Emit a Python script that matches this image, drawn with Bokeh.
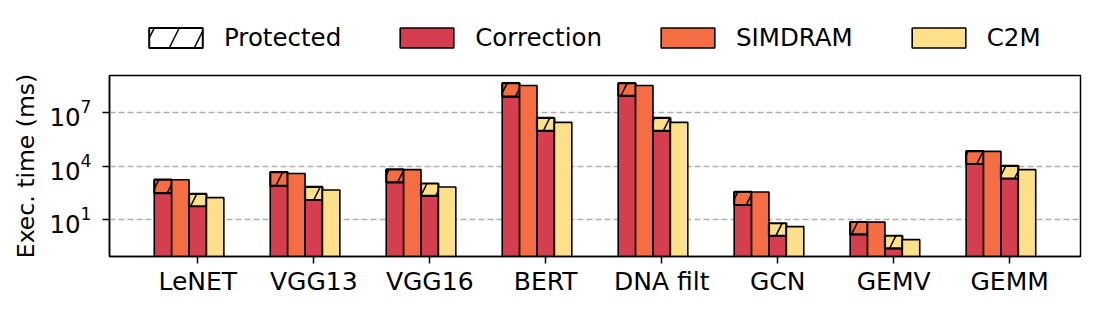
import numpy as np
from bokeh.plotting import figure
from bokeh.layouts import column
from bokeh.models import (ColumnDataSource, FixedTicker, Range1d, Legend, LegendItem)
from bokeh.embed import file_html
from bokeh.resources import INLINE

# ---- data ----
categories = ["LeNET", "VGG13", "VGG16", "BERT", "DNA filt", "GCN", "GEMV", "GEMM"]
simdram_protected = [1740, 4570, 6460, 4.27e8, 4.27e8, 355, 7.4, 67600]
simdram_correction = [302, 776, 1230, 7.6e7, 8.3e7, 66, 1.5, 12900]
simdram = [1700, 3800, 6310, 3.16e8, 3.16e8, 350, 7.3, 66000]
c2m_protected = [275, 676, 1050, 4.9e6, 4.9e6, 6.3, 1.26, 10200]
c2m_correction = [56, 126, 214, 9.3e5, 9.3e5, 1.26, 0.245, 2000]
c2m = [170, 457, 676, 2.75e6, 2.75e6, 4.1, 0.76, 6300]
legend_labels = ["Protected", "Correction", "SIMDRAM", "C2M"]
y_ticks = [1e1, 1e4, 1e7]

RED = "#D53E4F"
ORANGE = "#F46D43"
YELLOW = "#FEE08B"
FONT = "DejaVu Sans"
HATCH = dict(hatch_pattern="/", hatch_color="black", hatch_weight=1.5, hatch_scale=30)

w = 0.15
xs = np.arange(len(categories))
floor = 1e-4
src = ColumnDataSource(dict(
    x1=xs - 2 * w, x2=xs - w, x3=xs * 1.0, x4=xs + w,
    sp=simdram_protected, sc=simdram_correction, s=simdram,
    cp=c2m_protected, cc=c2m_correction, c=c2m,
    base=[floor] * len(categories),
))

# ---------------- main chart ----------------
p = figure(width=1087, height=244, y_axis_type="log",
           x_range=Range1d(-0.761, 7.611),
           y_range=Range1d(10 ** -1.06, 10 ** 9.06),
           output_backend="svg", toolbar_location=None,
           min_border_left=109, min_border_right=7,
           min_border_top=15, min_border_bottom=48)

lw = 1.6
p.vbar(x="x1", width=w, bottom="base", top="sc", source=src,
       fill_color=RED, line_color="black", line_width=lw)
p.vbar(x="x1", width=w, bottom="sc", top="sp", source=src,
       fill_color=ORANGE, line_color="black", line_width=2.2, **HATCH)
p.vbar(x="x2", width=w, bottom="base", top="s", source=src,
       fill_color=ORANGE, line_color="black", line_width=lw)
p.vbar(x="x3", width=w, bottom="base", top="cc", source=src,
       fill_color=RED, line_color="black", line_width=lw)
p.vbar(x="x3", width=w, bottom="cc", top="cp", source=src,
       fill_color=YELLOW, line_color="black", line_width=2.2, **HATCH)
p.vbar(x="x4", width=w, bottom="base", top="c", source=src,
       fill_color=YELLOW, line_color="black", line_width=lw)

# axes
p.xaxis.ticker = FixedTicker(ticks=list(xs))
p.xaxis.major_label_overrides = {int(i): n for i, n in zip(xs, categories)}
p.xaxis.major_label_text_font_size = "25px"
p.xaxis.major_label_text_font = FONT
p.xaxis.major_label_text_color = "black"
p.xaxis.major_label_standoff = 3
p.xaxis.minor_tick_line_color = None

p.yaxis.ticker = FixedTicker(ticks=y_ticks, minor_ticks=[])
p.yaxis.major_label_text_font_size = "24.5px"
p.yaxis.major_label_text_font = FONT
p.yaxis.major_label_text_color = "black"
p.yaxis.major_label_standoff = 11
p.yaxis.minor_tick_line_color = None
p.yaxis.axis_label = "Exec. time (ms)"
p.yaxis.axis_label_text_font = FONT
p.yaxis.axis_label_text_font_size = "23.5px"
p.yaxis.axis_label_text_font_style = "normal"
p.yaxis.axis_label_text_color = "black"
p.yaxis.axis_label_standoff = 6

for ax in (p.xaxis, p.yaxis):
    ax.axis_line_color = "black"
    ax.axis_line_width = 1.5
    ax.major_tick_line_color = "black"
    ax.major_tick_line_width = 1.5
    ax.major_tick_out = 7
    ax.major_tick_in = 0

p.xgrid.visible = False
p.ygrid.ticker = FixedTicker(ticks=y_ticks, minor_ticks=[])
p.ygrid.grid_line_color = "#b0b0b0"
p.ygrid.grid_line_dash = "6 3"
p.ygrid.grid_line_width = 1.3

p.outline_line_color = "black"
p.outline_line_width = 1.5
p.outline_line_alpha = 1

# ---------------- legend strip ----------------
lf = figure(width=1087, height=60, x_range=Range1d(0, 1), y_range=Range1d(0, 1),
            output_backend="svg", toolbar_location=None,
            x_axis_location=None, y_axis_location=None,
            min_border=0, outline_line_color=None)
lf.grid.visible = False
lf.background_fill_color = None
lf.border_fill_color = None
# zero-size proxies: nothing is drawn for them, only their legend glyphs show
proxy = ColumnDataSource(dict(x=[0.5], bottom=[0.5], top=[0.5]))
LH = dict(hatch_pattern="/", hatch_color="black", hatch_weight=1.5, hatch_scale=50)
lr = [
    lf.vbar(x="x", bottom="bottom", top="top", width=0, source=proxy, fill_color="white",
            line_color="black", line_width=2, **LH),
    lf.vbar(x="x", bottom="bottom", top="top", width=0, source=proxy, fill_color=RED,
            line_color="black", line_width=1.6),
    lf.vbar(x="x", bottom="bottom", top="top", width=0, source=proxy, fill_color=ORANGE,
            line_color="black", line_width=1.6),
    lf.vbar(x="x", bottom="bottom", top="top", width=0, source=proxy, fill_color=YELLOW,
            line_color="black", line_width=1.6),
]
legend = Legend(items=[LegendItem(label=l, renderers=[r]) for l, r in zip(legend_labels, lr)],
                orientation="horizontal", location=(33, 8),
                glyph_width=67, glyph_height=25,
                label_standoff=15, spacing=52, padding=0, margin=0,
                border_line_alpha=0, background_fill_alpha=0,
                label_text_font_size="24.5px", label_text_font=FONT,
                label_text_color="black", label_text_baseline="middle")
lf.add_layout(legend, "center")

layout = column(lf, p, spacing=0)
open("out.html", "w").write(file_html(layout, INLINE))
